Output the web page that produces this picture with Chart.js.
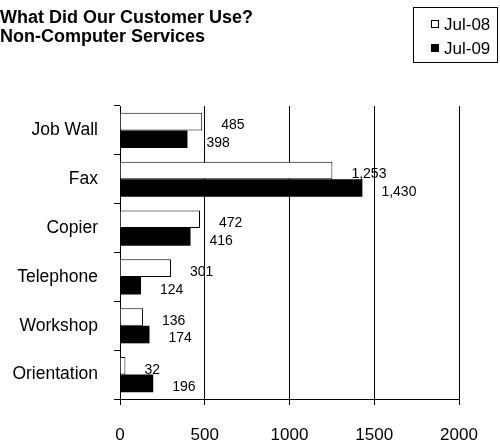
<!DOCTYPE html>
<html>
<head>
<meta charset="utf-8">
<script src="https://cdn.jsdelivr.net/npm/chart.js@4/dist/chart.umd.min.js"></script>
<style>
  html, body { margin: 0; padding: 0; background: #fff; }
  canvas { display: block; }
</style>
</head>
<body>
<canvas id="chart" width="500" height="442"></canvas>
<script>
// Chart data
const categories = ['Job Wall', 'Fax', 'Copier', 'Telephone', 'Workshop', 'Orientation'];
const jul08 = [485, 1253, 472, 301, 136, 32];
const jul09 = [398, 1430, 416, 124, 174, 196];
const seriesNames = ['Jul-08', 'Jul-09'];
const titleLines = ['What Did Our Customer Use?', 'Non-Computer Services'];
const xTicks = [0, 500, 1000, 1500, 2000];

const FONT = '"Liberation Sans", Arial, sans-serif';

// Title drawn in the top left corner
const titlePlugin = {
    id: 'titleLines',
    afterDraw(chart) {
        const ctx = chart.ctx;
        ctx.save();
        ctx.fillStyle = '#000';
        ctx.font = 'bold 18px ' + FONT;
        ctx.textAlign = 'left';
        ctx.textBaseline = 'alphabetic';
        titleLines.forEach((line, i) => ctx.fillText(line, 0, 23 + i * 19));
        ctx.restore();
    }
};

// Boxed legend in the top right corner
const boxLegend = {
    id: 'boxLegend',
    afterDraw(chart) {
        const ctx = chart.ctx;
        ctx.save();
        ctx.strokeStyle = '#000';
        ctx.lineWidth = 1;
        ctx.strokeRect(413.5, 7.5, 84, 55);
        ctx.font = '17px ' + FONT;
        ctx.textBaseline = 'middle';
        chart.data.datasets.forEach((ds, i) => {
            const y = 24 + i * 24;
            ctx.fillStyle = ds.backgroundColor;
            ctx.fillRect(431.5, y - 3.5, 7, 7);
            ctx.strokeRect(431.5, y - 3.5, 7, 7);
            ctx.fillStyle = '#000';
            ctx.fillText(ds.label, 444, y + 1);
        });
        ctx.restore();
    }
};

// Value labels to the right of each bar
const valueLabels = {
    id: 'valueLabels',
    afterDatasetsDraw(chart) {
        const ctx = chart.ctx;
        ctx.save();
        ctx.fillStyle = '#000';
        ctx.font = '14px ' + FONT;
        ctx.textAlign = 'left';
        ctx.textBaseline = 'middle';
        chart.data.datasets.forEach((ds, di) => {
            chart.getDatasetMeta(di).data.forEach((bar, i) => {
                ctx.fillText(ds.data[i].toLocaleString('en-US'), bar.x + 19, bar.y + 4);
            });
        });
        ctx.restore();
    }
};

new Chart(document.getElementById('chart').getContext('2d'), {
    type: 'bar',
    data: {
        labels: categories,
        datasets: [
            {
                label: seriesNames[0],
                data: jul08,
                backgroundColor: '#ffffff',
                borderColor: '#000000',
                borderWidth: 1,
                categoryPercentage: 0.72,
                barPercentage: 1.0
            },
            {
                label: seriesNames[1],
                data: jul09,
                backgroundColor: '#000000',
                borderColor: '#000000',
                borderWidth: 0,
                categoryPercentage: 0.72,
                barPercentage: 1.0
            }
        ]
    },
    options: {
        indexAxis: 'y',
        responsive: false,
        animation: false,
        layout: { padding: { top: 106, right: 41, bottom: 0, left: 0 } },
        scales: {
            x: {
                min: 0,
                max: 2000,
                afterBuildTicks(axis) {
                    axis.ticks = xTicks.map(v => ({ value: v }));
                },
                afterFit(axis) { axis.height = 43; },
                grid: { color: '#000', lineWidth: 1, tickLength: 6 },
                border: { color: '#000', width: 1 },
                ticks: {
                    color: '#000',
                    font: { family: FONT, size: 17 },
                    padding: 20,
                    maxRotation: 0,
                    callback: value => String(value)
                }
            },
            y: {
                afterFit(axis) { axis.width = 120; },
                grid: { drawOnChartArea: false, color: '#000', tickLength: 6 },
                border: { color: '#000', width: 1 },
                ticks: {
                    color: '#000',
                    font: { family: FONT, size: 17.5 },
                    padding: 16
                }
            }
        },
        plugins: {
            legend: { display: false },
            tooltip: { enabled: false },
            title: { display: false }
        }
    },
    plugins: [titlePlugin, boxLegend, valueLabels]
});
</script>
</body>
</html>
